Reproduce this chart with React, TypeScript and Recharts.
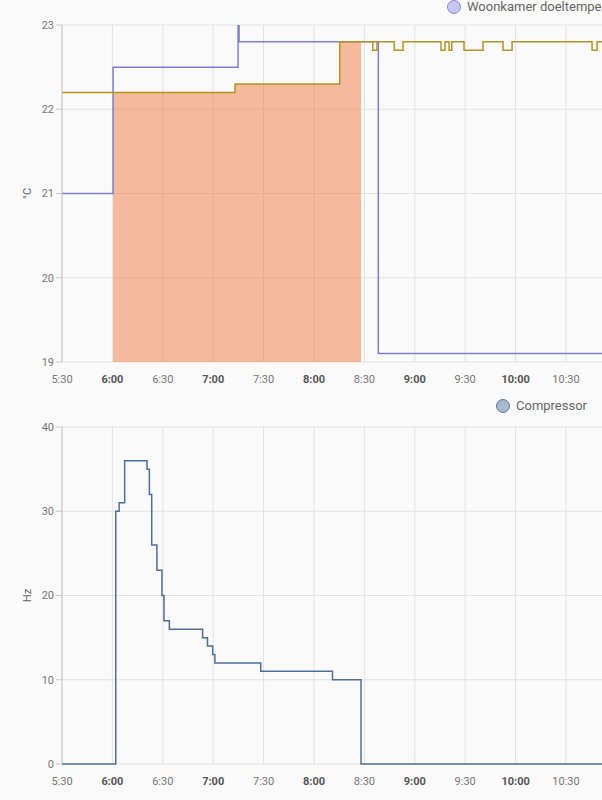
import React from 'react';
import { ComposedChart, Line, Area, XAxis, YAxis, CartesianGrid, Legend } from 'recharts';

// time axis: minutes after 5:30
const tickMinutes = [0, 30, 60, 90, 120, 150, 180, 210, 240, 270, 300];
const tickLabels = ['5:30', '6:00', '6:30', '7:00', '7:30', '8:00', '8:30', '9:00', '9:30', '10:00', '10:30'];

// Woonkamer doeltemperatuur (target)
const targetMin = [0, 30.4, 104.8, 105.4, 188.3, 330];
const targetVal = [21, 22.5, 24, 22.8, 19.1, 19.1];

// Woonkamer huidige temperatuur (current)
const currentMin = [0, 103, 165.3, 185, 187.5, 197.8, 203, 225.6, 228, 230.4, 232, 239.3, 250.6, 262.5, 267.9, 315.5, 318.5, 330];
const currentVal = [22.2, 22.3, 22.8, 22.7, 22.8, 22.7, 22.8, 22.7, 22.8, 22.7, 22.8, 22.7, 22.8, 22.7, 22.8, 22.7, 22.8, 22.8];

// heating active
const heatingFrom = 30.4;
const heatingTo = 178;

// Compressor (Hz)
const compMin = [0, 32, 34, 37.3, 50.6, 52, 53.4, 56.5, 59.5, 60.7, 63.9, 83.7, 86.6, 89.7, 91, 118.3, 161, 178, 330];
const compHz = [0, 30, 31, 36, 35, 32, 26, 23, 20, 17, 16, 15, 14, 13, 12, 11, 10, 0, 0];

const tempTicks = [19, 20, 21, 22, 23];
const hzTicks = [0, 10, 20, 30, 40];

const currentAt = (t: number) => {
  let v = currentVal[0];
  currentMin.forEach((m, i) => {
    if (m <= t) v = currentVal[i];
  });
  return v;
};

const tempXs = Array.from(new Set([...targetMin, ...currentMin, heatingFrom, heatingTo])).sort((a, b) => a - b);
const tempData = tempXs.map((t) => {
  const ti = targetMin.indexOf(t);
  const ci = currentMin.indexOf(t);
  return {
    t,
    target: ti >= 0 ? targetVal[ti] : null,
    current: ci >= 0 ? currentVal[ci] : null,
    heating: t >= heatingFrom && t <= heatingTo ? currentAt(t) : null,
  };
});

const compData = compMin.map((t, i) => ({ t, hz: compHz[i] }));

const FONT = 'Roboto, "Noto Sans", sans-serif';

const XTick = (props: any) => {
  const { x, y, payload } = props;
  const idx = tickMinutes.indexOf(payload.value);
  const label = idx >= 0 ? tickLabels[idx] : '';
  const bold = label.endsWith(':00');
  return (
    <text
      x={x}
      y={y + 17}
      textAnchor="middle"
      dominantBaseline="central"
      fontSize={11}
      fontFamily={FONT}
      fontWeight={bold ? 700 : 400}
      fill={bold ? '#555' : '#777'}
    >
      {label}
    </text>
  );
};

const yTitle = (text: string) => (props: any) => {
  const { viewBox } = props;
  const cx = 27;
  const cy = viewBox.y + viewBox.height / 2;
  return (
    <text
      x={cx}
      y={cy}
      transform={`rotate(-90 ${cx} ${cy})`}
      textAnchor="middle"
      dominantBaseline="central"
      fontSize={11}
      fontFamily={FONT}
      fill="#666"
    >
      {text}
    </text>
  );
};

const legendContent = (items: { name: string; fill: string; stroke: string }[]) => () => (
  <div style={{ display: 'flex', whiteSpace: 'nowrap', fontFamily: FONT, fontSize: 13, color: '#666' }}>
    {items.map((it) => (
      <div key={it.name} style={{ display: 'flex', alignItems: 'center', marginRight: 14 }}>
        <span
          style={{
            display: 'inline-block',
            width: 12,
            height: 12,
            borderRadius: '50%',
            background: it.fill,
            border: `1px solid ${it.stroke}`,
            marginRight: 6,
          }}
        />
        <span>{it.name}</span>
      </div>
    ))}
  </div>
);

const topLegend = [{ name: 'Woonkamer doeltemperatuur', fill: '#c6c7ef', stroke: '#8a8bd9' }];
const bottomLegend = [{ name: 'Compressor', fill: '#a7b7ce', stroke: '#5b7aa6' }];

const W = 640;
const RIGHT = W - (62 + 330 * 1.68);

export default function App() {
  return (
    <div
      style={{
        position: 'absolute',
        left: 0,
        top: 0,
        width: 602,
        height: 800,
        overflow: 'hidden',
        background: '#fafafa',
        fontFamily: FONT,
      }}
    >
      <ComposedChart width={W} height={390} data={tempData} margin={{ top: 25, right: RIGHT, bottom: 0, left: 0 }}>
        <CartesianGrid stroke="#e2e2e2" strokeWidth={1} />
        <XAxis
          dataKey="t"
          type="number"
          domain={[0, 330]}
          ticks={tickMinutes}
          height={28}
          axisLine={false}
          tickLine={false}
          tickSize={0}
          tickMargin={0}
          tick={<XTick />}
          interval={0}
        />
        <YAxis
          type="number"
          domain={[19, 23]}
          ticks={tempTicks}
          allowDataOverflow
          width={62}
          axisLine={{ stroke: '#c8c8c8' }}
          tickLine={{ stroke: '#c8c8c8' }}
          tickSize={6}
          tick={{ fontSize: 11, fill: '#777', fontFamily: FONT }}
          label={{ content: yTitle('°C') }}
        />
        <Legend
          layout="horizontal"
          verticalAlign="middle"
          align="center"
          wrapperStyle={{ top: -1, left: 447, width: 'auto' }}
          content={legendContent(topLegend)}
        />
        <Area
          type="stepAfter"
          dataKey="heating"
          stroke="none"
          fill="#ee7a3c"
          fillOpacity={0.5}
          baseValue="dataMin"
          isAnimationActive={false}
          legendType="none"
        />
        <Line
          type="stepAfter"
          dataKey="target"
          stroke="#7c7ed6"
          strokeWidth={1.5}
          dot={false}
          connectNulls
          isAnimationActive={false}
        />
        <Line
          type="stepAfter"
          dataKey="current"
          stroke="#b5941f"
          strokeWidth={1.5}
          dot={false}
          connectNulls
          isAnimationActive={false}
        />
      </ComposedChart>
      <ComposedChart width={W} height={410} data={compData} margin={{ top: 37, right: RIGHT, bottom: 8, left: 0 }}>
        <CartesianGrid stroke="#e2e2e2" strokeWidth={1} />
        <XAxis
          dataKey="t"
          type="number"
          domain={[0, 330]}
          ticks={tickMinutes}
          height={28}
          axisLine={false}
          tickLine={false}
          tickSize={0}
          tickMargin={0}
          tick={<XTick />}
          interval={0}
        />
        <YAxis
          type="number"
          domain={[0, 40]}
          ticks={hzTicks}
          width={62}
          axisLine={{ stroke: '#c8c8c8' }}
          tickLine={{ stroke: '#c8c8c8' }}
          tickSize={6}
          tick={{ fontSize: 11, fill: '#777', fontFamily: FONT }}
          label={{ content: yTitle('Hz') }}
        />
        <Legend
          layout="horizontal"
          verticalAlign="middle"
          align="center"
          wrapperStyle={{ top: 8, left: 496, width: 'auto' }}
          content={legendContent(bottomLegend)}
        />
        <Line
          type="stepAfter"
          dataKey="hz"
          stroke="#4d6f9e"
          strokeWidth={1.5}
          dot={false}
          isAnimationActive={false}
        />
      </ComposedChart>
    </div>
  );
}
